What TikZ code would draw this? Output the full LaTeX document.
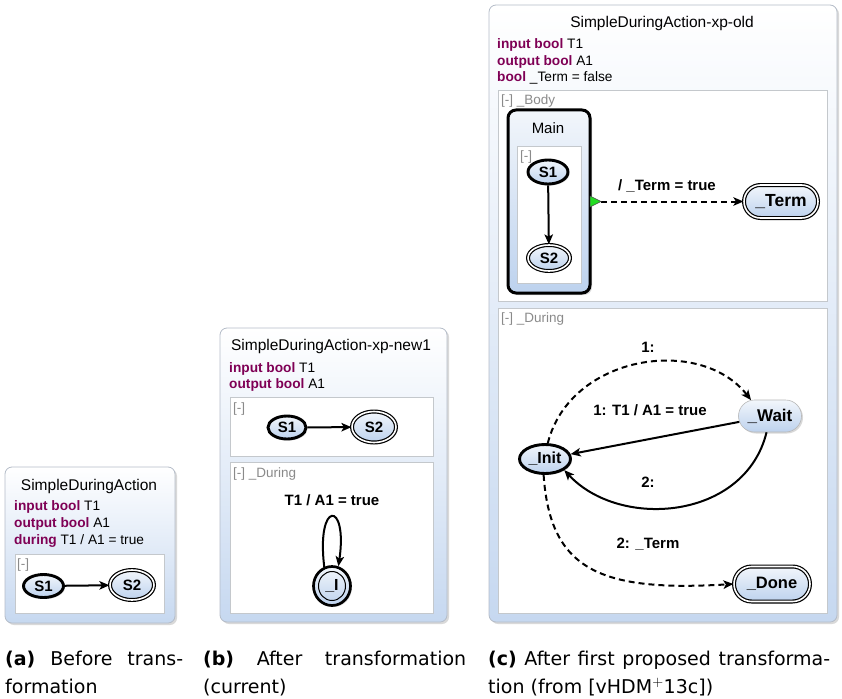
\documentclass[tikz,border=0pt]{standalone}
\usepackage{fontspec}
\setmainfont{Liberation Sans}
\newfontfamily\capfont{DejaVu Sans}
\usetikzlibrary{shapes.misc,shapes.geometric,shadows,arrows.meta,calc}
\definecolor{kwcol}{HTML}{7F0055}
\definecolor{boxbot}{HTML}{C6D8F0}
\definecolor{boxborder}{HTML}{B4BCC8}
\definecolor{regborder}{HTML}{C4C8CC}
\definecolor{stTop}{HTML}{F2F6FB}
\definecolor{stBot}{HTML}{BDD2EE}
\definecolor{regtext}{HTML}{8A8A8A}
\definecolor{trigreen}{HTML}{22DD22}
\newcommand\kw[1]{\textcolor{kwcol}{\textbf{#1}}}
\newcommand\fs[1]{\fontsize{#1}{#1}\selectfont}
\begin{document}
\begin{tikzpicture}[x=1pt,y=-1pt,
  outerbox/.style={draw=boxborder, line width=0.8pt, rounded corners=7pt, top color=white, bottom color=boxbot,
    drop shadow={opacity=0.3, shadow xshift=2pt, shadow yshift=-2pt}},
  region/.style={draw=regborder, line width=0.8pt, fill=white},
  mainbox/.style={draw=black, line width=3pt, rounded corners=8pt, top color=stTop, bottom color=stBot,
    drop shadow={opacity=0.3, shadow xshift=2pt, shadow yshift=-2pt}},
  titletxt/.style={font=\fs{15.5}, anchor=base, inner sep=0pt},
  decl/.style={font=\fs{13.7}, anchor=base west, inner sep=0pt},
  regtxt/.style={font=\fs{13.5}, text=regtext, anchor=base west, inner sep=0pt},
  lbl/.style={font=\fs{15}\bfseries, anchor=base, inner sep=0pt},
  state/.style={ellipse, inner sep=0pt, top color=stTop, bottom color=stBot,
    font=\fs{15}\bfseries,
    drop shadow={opacity=0.3, shadow xshift=1.5pt, shadow yshift=-1.5pt}},
  pill/.style={rounded rectangle},
  initstate/.style={state, draw=black, line width=2.9pt},
  finalstate/.style={state, draw=black, line width=1.2pt, double=white, double distance=1.6pt},
  normstate/.style={state, draw=black!28, line width=0.6pt},
  trans/.style={line width=2pt, -{Stealth[length=10pt,width=8.5pt,inset=2.5pt]}},
  dtrans/.style={trans, dash pattern=on 6pt off 4pt},
  captxt/.style={font=\capfont\fs{19}, anchor=base west, inner sep=0pt}
]
\useasboundingbox (0,0) rectangle (842,698);

% ---------------- Panel (a) ----------------
\draw[outerbox] (5,467) rectangle (175,623);
\node[titletxt] (ta) at (89,490) {SimpleDuringAction};
\node[decl] (da1) at (14,510) {\kw{input bool} T1};
\node[decl] (da2) at (14,527) {\kw{output bool} A1};
\node[decl] (da3) at (14,544) {\kw{during} T1 / A1 = true};
\draw[region] (15,554) rectangle (164,613);
\node[regtxt] (ra) at (17,568) {[-]};
\node[initstate, minimum width=40pt, minimum height=23pt] (aS1) at (43.5,586) {S1};
\node[finalstate, minimum width=44pt, minimum height=30pt] (aS2) at (132,585) {S2};
\draw[trans] (aS1) -- (aS2);

% ---------------- Panel (b) ----------------
\draw[outerbox] (220,328) rectangle (447,622);
\node[titletxt] (tb) at (331,350) {SimpleDuringAction-xp-new1};
\node[decl] (db1) at (229,372) {\kw{input bool} T1};
\node[decl] (db2) at (229,388) {\kw{output bool} A1};
\draw[region] (230,397) rectangle (433,456);
\node[regtxt] (rb1) at (233,412) {[-]};
\node[initstate, minimum width=38pt, minimum height=23pt] (bS1) at (287,427.5) {S1};
\node[finalstate, minimum width=44pt, minimum height=31pt] (bS2) at (374,427) {S2};
\draw[trans] (bS1) -- (bS2);
\draw[region] (230,462) rectangle (433,613);
\node[regtxt] (rb2) at (233,477) {[-] \_During};
\node[lbl] (lb) at (332,505) {T1 / A1 = true};
\node[initstate, line width=2.7pt, minimum width=37pt, minimum height=39pt, font=\fs{16}\bfseries] (bI) at (332,586) {\_I};
\draw[line width=1pt] (bI.center) ellipse (13.5pt and 14.5pt);
\draw[trans] (bI.112) .. controls (316,500) and (348,500) .. (bI.72);

% ---------------- Panel (c) ----------------
\draw[outerbox] (489,5) rectangle (837,622);
\node[titletxt] (tc) at (662,28) {SimpleDuringAction-xp-old};
\node[decl] (dc1) at (497,49) {\kw{input bool} T1};
\node[decl] (dc2) at (497,66) {\kw{output bool} A1};
\node[decl] (dc3) at (497,82) {\kw{bool} \_Term = false};
\draw[region] (498,90) rectangle (827,301);
\node[regtxt] (rc1) at (501,105) {[-] \_Body};
\draw[mainbox] (508,110) rectangle (590,293);
\coordinate (mainE) at (590,201.5);
\node[font=\fs{15}, anchor=base, inner sep=0pt] (mainlbl) at (548,133) {Main};
\draw[region] (517,146) rectangle (581,283);
\node[regtxt] (rc2) at (520,160) {[-]};
\node[initstate, minimum width=40pt, minimum height=24pt] (cS1) at (548,172) {S1};
\node[finalstate, minimum width=42pt, minimum height=26pt] (cS2) at (549,258) {S2};
\draw[trans] (cS1) -- (cS2);
\node[finalstate, pill, minimum width=74pt, minimum height=33pt, font=\fs{17.5}\bfseries] (cTerm) at (781,201.5) {\_Term};
\coordinate (tri) at (601,201.5);
\draw[dtrans] (tri) -- (cTerm);
\draw[fill=trigreen, draw=black!70, line width=0.5pt] ($(mainE)+(0,-5.5)$) -- (tri) -- ($(mainE)+(0,5.5)$) -- cycle;
\node[lbl] (lt) at (667,190) {/ \_Term = true};

\draw[region] (498,308) rectangle (827,613);
\node[regtxt] (rc3) at (501,322) {[-] \_During};
\node[initstate, minimum width=51pt, minimum height=29pt, font=\fs{16}\bfseries] (cInit) at (545,459) {\_Init};
\node[normstate, pill, minimum width=63pt, minimum height=32pt, font=\fs{17}\bfseries] (cWait) at (770,416) {\_Wait};
\node[finalstate, pill, minimum width=76pt, minimum height=35pt, font=\fs{16.5}\bfseries] (cDone) at (772,584) {\_Done};
\draw[dtrans] (cInit.80) .. controls (570,355) and (700,335) .. (cWait.140);
\draw[trans] (cWait) -- (cInit);
\draw[trans] (cWait.258) .. controls (745,520) and (620,530) .. (cInit.-30);
\draw[dtrans] (cInit.265) .. controls (550,570) and (600,592) .. (cDone.west);
\node[lbl] (l1) at (648,352) {1:};
\node[lbl] (l2) at (650,415) {1: T1 / A1 = true};
\node[lbl] (l3) at (648,487) {2:};
\node[lbl] (l4) at (648,548) {2: \_Term};

% ---------------- Captions ----------------
\node[captxt] (ca1) at (5,665) {\makebox[178pt][s]{\textbf{(a)} Before trans-}};
\node[captxt] (ca2) at (5,693) {formation};
\node[captxt] (cb1) at (203,665) {\makebox[263pt][s]{\textbf{(b)} After transformation}};
\node[captxt] (cb2) at (203,693) {(current)};
\node[captxt] (cc1) at (488,665) {\makebox[342pt][s]{\textbf{(c)} After first proposed transforma-}};
\node[captxt] (cc2) at (488,693) {tion (from [vHDM$^{+}$13c])};
\end{tikzpicture}
\end{document}
